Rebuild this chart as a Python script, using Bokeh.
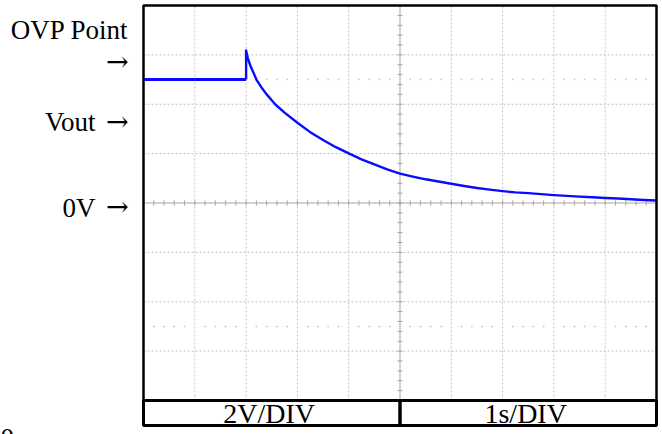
from bokeh.plotting import figure
from bokeh.models import Range1d, Label
from bokeh.embed import file_html
from bokeh.resources import INLINE

# ---------------- data ----------------
flat_time = [0.0, 2.0]            # seconds
flat_volts = [5.0, 5.0]           # volts (Vout level)
decay_time = [2.0, 2.0, 2.03, 2.06, 2.09, 2.15, 2.2, 2.3, 2.4, 2.5, 2.57, 2.75,
              3.0, 3.25, 3.5, 3.75, 4.0, 4.25, 4.5, 4.75, 5.0, 5.25, 5.5, 5.75,
              6.0, 6.25, 6.5, 6.75, 7.0, 7.25, 7.5, 7.75, 8.0, 8.25, 8.5, 8.75,
              9.0, 9.25, 9.5, 9.75, 10.0]
decay_volts = [5.0, 6.18, 5.9, 5.7, 5.53, 5.25, 5.0, 4.68, 4.40, 4.16, 3.99, 3.66,
               3.25, 2.87, 2.55, 2.26, 2.01, 1.77, 1.56, 1.36, 1.19, 1.07, 0.96, 0.87,
               0.78, 0.69, 0.61, 0.54, 0.48, 0.43, 0.40, 0.36, 0.32, 0.29, 0.26, 0.23,
               0.20, 0.18, 0.15, 0.12, 0.10]
side_labels = ["OVP Point", "Vout", "0V"]
arrow_text = "→"
corner_text = "0"
table_labels = ["2V/DIV", "1s/DIV"]
volts_per_div = 2.0
secs_per_div = 1.0
n_xdiv = 10
n_ydiv = 8

# ---------------- geometry (pixels of the frame) ----------------
W, H = 662, 434
FX0, FX1 = 143, 656     # frame left/right pixel
FY0, FY1 = 5, 400       # frame top/bottom pixel
TABLE_BOTTOM = 425
t_span = n_xdiv * secs_per_div
v_half = n_ydiv / 2 * volts_per_div
ppx = (FX1 - FX0) / t_span
ppy = (FY1 - FY0) / (2 * v_half)
ymid = (FY0 + FY1) / 2


def tx(px):
    return (px - FX0) / ppx


def vy(py):
    return (ymid - py) / ppy


p = figure(width=W, height=H, output_backend="svg", toolbar_location=None,
           x_range=Range1d(tx(0), tx(W)), y_range=Range1d(vy(H), vy(0)),
           min_border=0, x_axis_location=None, y_axis_location=None,
           background_fill_color="white", border_fill_color="white")
p.outline_line_color = None
p.grid.visible = False

grid_col = "#c0c0c0"
center_col = "#a6a6a6"

# major dotted grid
xs_major = [k * secs_per_div for k in range(1, n_xdiv) if k != n_xdiv // 2]
ys_major = [k * volts_per_div for k in range(-n_ydiv // 2 + 1, n_ydiv // 2) if k != 0]
p.segment(x0=xs_major, y0=[-v_half] * len(xs_major), x1=xs_major, y1=[v_half] * len(xs_major),
          line_color=grid_col, line_width=1, line_dash="2 2")
p.segment(x0=[0] * len(ys_major), y0=ys_major, x1=[t_span] * len(ys_major), y1=ys_major,
          line_color=grid_col, line_width=1, line_dash="2 2")

# faint dotted lines at +/- 2.5 div
dot_t = [k * secs_per_div / 5 for k in range(1, n_xdiv * 5) if k % 5 != 0]
for lev in (2.5 * volts_per_div, -2.5 * volts_per_div):
    p.scatter(dot_t, [lev] * len(dot_t), marker="square", size=1.6,
              fill_color="#c8c8c8", line_color=None)

# center lines with minor ticks
tc = t_span / 2
p.segment(x0=[tc], y0=[-v_half], x1=[tc], y1=[v_half], line_color=center_col, line_width=1)
p.segment(x0=[0], y0=[0], x1=[t_span], y1=[0], line_color=center_col, line_width=1)
tick_t = [k * secs_per_div / 5 for k in range(1, n_xdiv * 5)]
hy = 2.6 / ppy
p.segment(x0=tick_t, y0=[-hy] * len(tick_t), x1=tick_t, y1=[hy] * len(tick_t),
          line_color=center_col, line_width=1)
tick_v = [k * volts_per_div / 5 for k in range(-n_ydiv // 2 * 5 + 1, n_ydiv // 2 * 5)]
hx = 2.6 / ppx
p.segment(x0=[tc - hx] * len(tick_v), y0=tick_v, x1=[tc + hx] * len(tick_v), y1=tick_v,
          line_color=center_col, line_width=1)

# signal
p.line(flat_time, flat_volts, line_color="#0a0aff", line_width=3)
p.line(decay_time, decay_volts, line_color="#0a0aff", line_width=2.4, line_join="round")

# frame and table
p.quad(left=[0], right=[t_span], bottom=[-v_half], top=[v_half],
       fill_alpha=0, line_color="black", line_width=2.5)
tb = vy(TABLE_BOTTOM)
p.quad(left=[0, tc], right=[tc, t_span], bottom=[tb, tb], top=[-v_half, -v_half],
       fill_alpha=0, line_color="black", line_width=3)

font = "Liberation Serif"
fs = "27px"
label_pos = [(128, 29), (95, 121), (95, 207)]
for txt, (px, py) in zip(side_labels, label_pos):
    p.add_layout(Label(x=tx(px), y=vy(py), text=txt, text_align="right",
                       text_baseline="middle", text_font=font, text_font_size=fs,
                       text_color="black"))
for py in (61, 121, 206):
    p.add_layout(Label(x=tx(128), y=vy(py), text=arrow_text, text_align="right",
                       text_baseline="middle", text_font="DejaVu Serif", text_font_size="27px",
                       text_color="black"))
p.add_layout(Label(x=tx(0), y=vy(437), text=corner_text, text_align="left",
                   text_baseline="middle", text_font=font, text_font_size=fs,
                   text_color="black"))
ty = (-v_half + tb) / 2
for txt, cx in zip(table_labels, [tc / 2 - 0.05, tc + tc / 2 - 0.05]):
    p.add_layout(Label(x=cx, y=ty, text=txt, text_align="center", text_baseline="middle",
                       text_font=font, text_font_size="28px", text_color="black"))

open("out.html", "w").write(file_html(p, INLINE))
